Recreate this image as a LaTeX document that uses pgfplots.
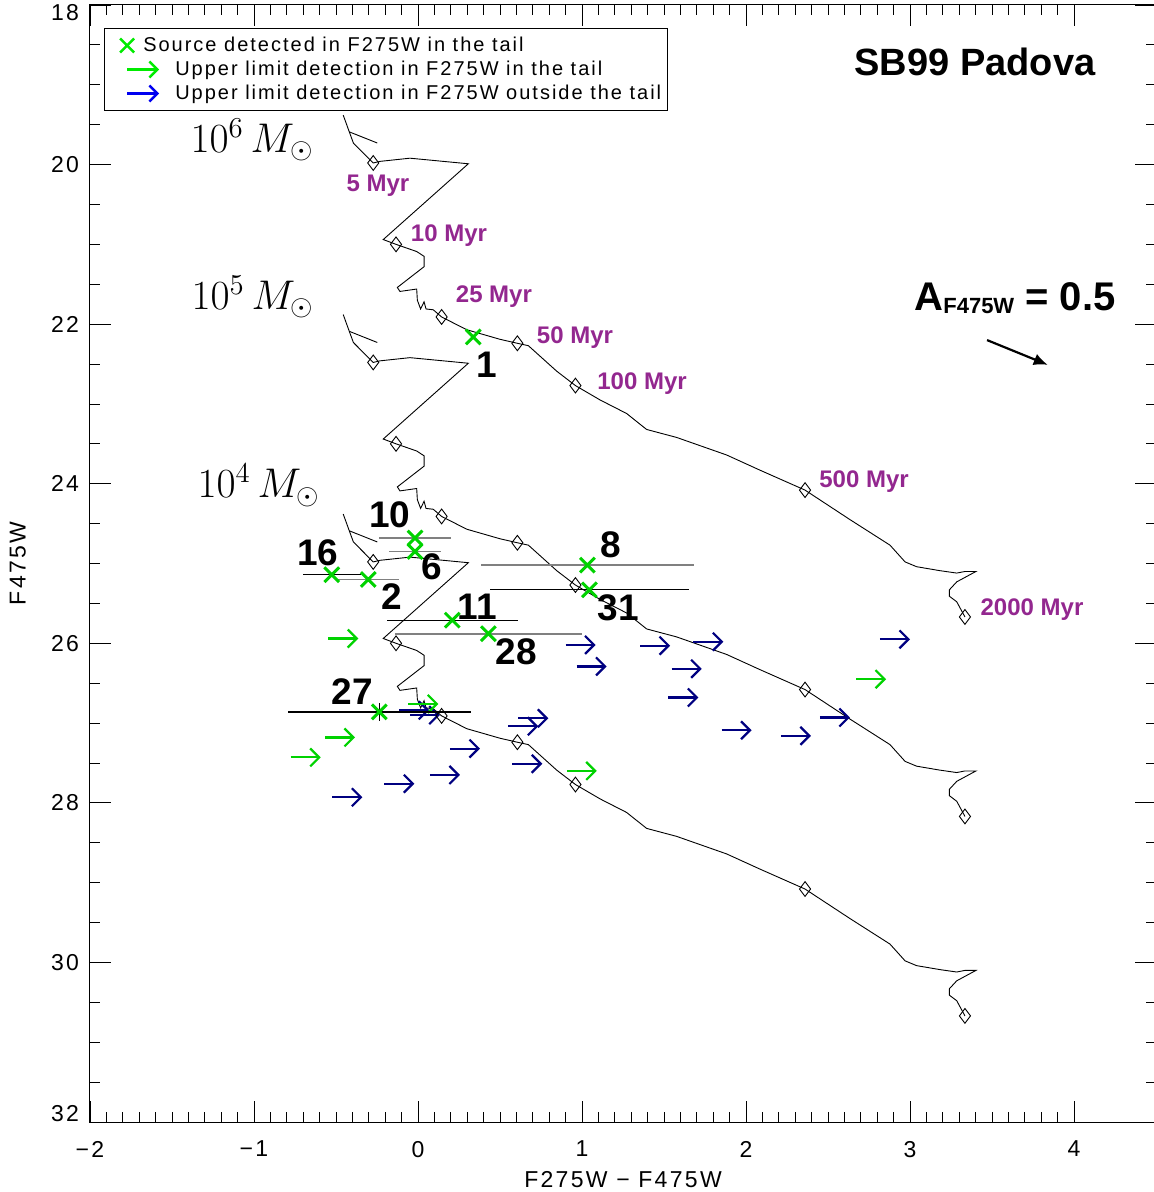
\documentclass[border=0pt]{standalone}
\usepackage{fontspec}
\setmainfont{Liberation Sans}
\newfontfamily\legfont{Liberation Sans}[LetterSpace=10]
\usepackage{pgfplots}
\pgfplotsset{compat=1.18}
\usetikzlibrary{arrows.meta}
\definecolor{dgreen}{RGB}{0,210,0}
\definecolor{lgreen}{RGB}{0,235,0}
\definecolor{navyb}{RGB}{0,0,128}
\definecolor{lblue}{RGB}{0,0,240}
\definecolor{agepurple}{RGB}{147,39,143}
\definecolor{bargray}{RGB}{128,128,128}
\begin{document}
\begin{tikzpicture}
\begin{axis}[
  scale only axis, width=533pt, height=558.5pt,
  xmin=-2, xmax=4.5, ymin=18, ymax=32, y dir=reverse,
  xtick={-2,-1,0,1,2,3,4}, xticklabels={−2,−1,0,1,2,3,4},
  ytick={18,20,22,24,26,28,30,32},
  yticklabels={\rule{0pt}{15.5pt}18,20,22,24,26,28,30,\rule[-9pt]{0pt}{9pt}32},
  minor x tick num=9, minor y tick num=3,
  major tick length=10.5pt, minor tick length=5pt,
  tick align=inside,
  tick style={black, line width=0.4pt},
  axis line style={line width=0.5pt},
  ticklabel style={font=\legfont\fontsize{11.5}{12}\selectfont},
  /pgf/number format/assume math mode=true,
  xticklabel style={yshift=-6pt},
  yticklabel style={xshift=-2pt},
  xlabel={F275W − F475W}, ylabel={F475W},
  every axis x label/.style={at={(axis description cs:0.5,-0.0519)}, anchor=center, font=\legfont\fontsize{11.5}{12}\selectfont},
  every axis y label/.style={at={(axis description cs:-0.0677,0.5)}, rotate=90, anchor=center, font=\legfont\fontsize{11.5}{12}\selectfont},
  clip=false,
  legend style={at={(axis description cs:0.0132,0.9794)}, anchor=north west, draw=black, line width=0.5pt,
    font=\legfont\fontsize{10}{10}\selectfont, inner xsep=3pt, inner ysep=3.75pt, row sep=2.5pt, column sep=7.5pt,
    nodes={inner sep=0pt, text height=7.5pt, text depth=2pt},
    cells={anchor=west}},
]
\coordinate (SW) at (axis description cs:0,0);
\coordinate (NE) at (axis description cs:1,1);
% legend
\addlegendimage{legend image code/.code={\draw[lgreen, line width=1.2pt] (-3.5pt,-3.5pt) -- (3.5pt,3.5pt) (-3.5pt,3.5pt) -- (3.5pt,-3.5pt); \path (-8pt,0pt) (16pt,0pt);}}
\addlegendentry{\hspace*{-16pt}Source detected in F275W in the tail}
\addlegendimage{legend image code/.code={\draw[lgreen, line width=1.2pt, -{Straight Barb[length=4pt,width=8pt]}] (0pt,0pt) -- (16pt,0pt); \path (-8pt,0pt);}}
\addlegendentry{Upper limit detection in F275W in the tail}
\addlegendimage{legend image code/.code={\draw[lblue, line width=1.2pt, -{Straight Barb[length=4pt,width=8pt]}] (0pt,0pt) -- (16pt,0pt); \path (-8pt,0pt);}}
\addlegendentry{Upper limit detection in F275W outside the tail}

% ---- tracks: 10^6 Msun
\addplot[black, line width=0.45pt, forget plot] coordinates {
(-0.456,19.38) (-0.419,19.59) (-0.394,19.73) (-0.273,19.98) (-0.232,19.96) (-0.049,19.92) (0.307,19.99)
(-0.212,20.94) (-0.134,21.00) (-0.008,21.09) (0.037,21.15) (0.037,21.28) (-0.126,21.54) (-0.110,21.59)
(-0.008,21.56) (-0.004,21.70) (0.016,21.81) (0.037,21.72) (0.049,21.81) (0.093,21.82) (0.144,21.91)
(0.297,22.07) (0.500,22.19) (0.606,22.24) (0.673,22.27) (0.846,22.59) (0.960,22.77) (1.110,22.95)
(1.272,23.12) (1.394,23.32) (1.577,23.42) (1.882,23.64) (2.085,23.83) (2.360,24.08) (2.634,24.45)
(2.878,24.77) (2.970,24.98) (3.040,25.04) (3.183,25.09) (3.285,25.12) (3.335,25.10) (3.402,25.10)
(3.285,25.23) (3.240,25.33) (3.240,25.41) (3.285,25.48) (3.335,25.67)};
\addplot[black, line width=0.45pt, forget plot] coordinates {(-0.419,19.59) (-0.248,19.73)};
% 10^5 Msun
\addplot[black, line width=0.45pt, forget plot] coordinates {
(-0.456,21.88) (-0.419,22.09) (-0.394,22.23) (-0.273,22.48) (-0.232,22.46) (-0.049,22.42) (0.307,22.49)
(-0.212,23.44) (-0.134,23.50) (-0.008,23.59) (0.037,23.65) (0.037,23.78) (-0.126,24.04) (-0.110,24.09)
(-0.008,24.06) (-0.004,24.20) (0.016,24.31) (0.037,24.22) (0.049,24.31) (0.093,24.32) (0.144,24.41)
(0.297,24.57) (0.500,24.69) (0.606,24.74) (0.673,24.77) (0.846,25.09) (0.960,25.27) (1.110,25.45)
(1.272,25.62) (1.394,25.82) (1.577,25.92) (1.882,26.14) (2.085,26.33) (2.360,26.58) (2.634,26.95)
(2.878,27.27) (2.970,27.48) (3.040,27.54) (3.183,27.59) (3.285,27.62) (3.335,27.60) (3.402,27.60)
(3.285,27.73) (3.240,27.83) (3.240,27.91) (3.285,27.98) (3.335,28.17)};
\addplot[black, line width=0.45pt, forget plot] coordinates {(-0.419,22.09) (-0.248,22.23)};
% 10^4 Msun
\addplot[black, line width=0.45pt, forget plot] coordinates {
(-0.456,24.38) (-0.419,24.59) (-0.394,24.73) (-0.273,24.98) (-0.232,24.96) (-0.049,24.92) (0.307,24.99)
(-0.212,25.94) (-0.134,26.00) (-0.008,26.09) (0.037,26.15) (0.037,26.28) (-0.126,26.54) (-0.110,26.59)
(-0.008,26.56) (-0.004,26.70) (0.016,26.81) (0.037,26.72) (0.049,26.81) (0.093,26.82) (0.144,26.91)
(0.297,27.07) (0.500,27.19) (0.606,27.24) (0.673,27.27) (0.846,27.59) (0.960,27.77) (1.110,27.95)
(1.272,28.12) (1.394,28.32) (1.577,28.42) (1.882,28.64) (2.085,28.83) (2.360,29.08) (2.634,29.45)
(2.878,29.77) (2.970,29.98) (3.040,30.04) (3.183,30.09) (3.285,30.12) (3.335,30.10) (3.402,30.10)
(3.285,30.23) (3.240,30.33) (3.240,30.41) (3.285,30.48) (3.335,30.67)};
\addplot[black, line width=0.45pt, forget plot] coordinates {(-0.419,24.59) (-0.248,24.73)};
% age diamonds
\addplot[only marks, mark=diamond, mark size=3.7pt, mark options={black, fill=white, line width=0.45pt}, forget plot] coordinates {
(-0.273,19.98) (-0.134,21.00) (0.144,21.91) (0.606,22.24) (0.960,22.77) (2.360,24.08) (3.335,25.67)
(-0.273,22.48) (-0.134,23.50) (0.144,24.41) (0.606,24.74) (0.960,25.27) (2.360,26.58) (3.335,28.17)
(-0.273,24.98) (-0.134,26.00) (0.144,26.91) (0.606,27.24) (0.960,27.77) (2.360,29.08) (3.335,30.67)};

% ---- upper limits outside the tail (navy)
\addplot[navyb, line width=1.1pt, -{Straight Barb[length=4.5pt,width=9pt]}, quiver={u=0.183,v=0}, mark=none, forget plot] coordinates {
(-0.114,26.84) (-0.050,26.90) (0.551,27.04) (0.612,26.94) (0.195,27.32) (0.575,27.51) (0.073,27.65)
(-0.205,27.76) (-0.522,27.93) (0.900,26.02) (0.967,26.29) (1.354,26.03) (1.679,25.98) (1.547,26.32)
(1.527,26.68) (1.851,27.09) (2.213,27.16) (2.451,26.93) (2.817,25.95)};
% ---- upper limits in the tail (green)
\addplot[dgreen, line width=1.1pt, -{Straight Barb[length=4.5pt,width=9pt]}, quiver={u=0.183,v=0}, mark=none, forget plot] coordinates {
(-0.547,25.94) (-0.059,26.76) (-0.567,27.18) (-0.776,27.43) (0.907,27.60) (2.671,26.45)};

% ---- detections with colour error bars
\addplot[only marks, mark=x, mark size=5.2pt, mark options={dgreen, line width=1.5pt}, forget plot,
  error bars/.cd, x dir=both, x explicit, error mark=none, error bar style={bargray, line width=0.8pt}] coordinates {
(-0.018,24.68) +- (0.217,0)
(-0.018,24.85) +- (0.158,0)
(-0.303,25.20) +- (0.188,0)
(1.033,25.02) +- (0.648,0)
(0.429,25.88) +- (0.571,0)};
\addplot[only marks, mark=x, mark size=5.2pt, mark options={dgreen, line width=1.5pt}, forget plot,
  error bars/.cd, x dir=both, x explicit, y dir=both, y explicit, error mark=none, error bar style={black, line width=0.6pt}] coordinates {
(-0.526,25.14) +- (0.177,0)
(1.045,25.33) +- (0.608,0)
(0.209,25.71) +- (0.400,0)
(-0.236,26.86) +- (0.559,0.11)};
\addplot[only marks, mark=x, mark size=5.2pt, mark options={dgreen, line width=1.5pt}, forget plot] coordinates {(0.337,22.16)};

% ---- source numbers
\begin{scope}[every node/.style={font=\fontsize{18.5}{18.5}\bfseries\selectfont, anchor=center}]
\node at (axis cs:0.421,22.51) {1};
\node at (axis cs:-0.171,24.39) {10};
\node at (axis cs:-0.610,24.87) {16};
\node at (axis cs:0.085,25.04) {6};
\node at (axis cs:-0.159,25.41) {2};
\node at (axis cs:1.177,24.77) {8};
\node at (axis cs:1.220,25.56) {31};
\node at (axis cs:0.360,25.54) {11};
\node at (axis cs:0.598,26.10) {28};
\node at (axis cs:-0.402,26.60) {27};
\end{scope}
% ---- ages
\begin{scope}[every node/.style={font=\fontsize{12}{12}\bfseries\selectfont, text=agepurple, anchor=center}]
\node at (axis cs:-0.244,20.27) {5 Myr};
\node at (axis cs:0.189,20.89) {10 Myr};
\node at (axis cs:0.463,21.65) {25 Myr};
\node at (axis cs:0.957,22.17) {50 Myr};
\node at (axis cs:1.366,22.74) {100 Myr};
\node at (axis cs:2.720,23.97) {500 Myr};
\node at (axis cs:3.744,25.58) {2000 Myr};
\end{scope}
% ---- masses
\begin{scope}[every node/.style={font=\fontsize{20}{20}\selectfont, anchor=center}]
\node at (axis cs:-1.012,19.69) {$10^6\,M_\odot$};
\node at (axis cs:-1.006,21.66) {$10^5\,M_\odot$};
\node at (axis cs:-0.970,24.02) {$10^4\,M_\odot$};
\end{scope}
\node[font=\fontsize{19}{19}\bfseries\selectfont, anchor=center] at (axis cs:3.396,18.71) {SB99 Padova};
\node[font=\fontsize{20}{20}\bfseries\selectfont, anchor=center] at (axis cs:3.64,21.68) {A\raisebox{-1.5pt}{\fontsize{11}{12}\selectfont F475W} = 0.5};
\draw[black, line width=1.1pt, -{Latex[length=7pt,width=6pt]}] (axis cs:3.47,22.2) -- (axis cs:3.84,22.51);
\end{axis}
\pgfresetboundingbox
\path ([xshift=-45pt,yshift=-35pt]SW) rectangle ([xshift=-1pt,yshift=2.5pt]NE);
\end{tikzpicture}
\end{document}
